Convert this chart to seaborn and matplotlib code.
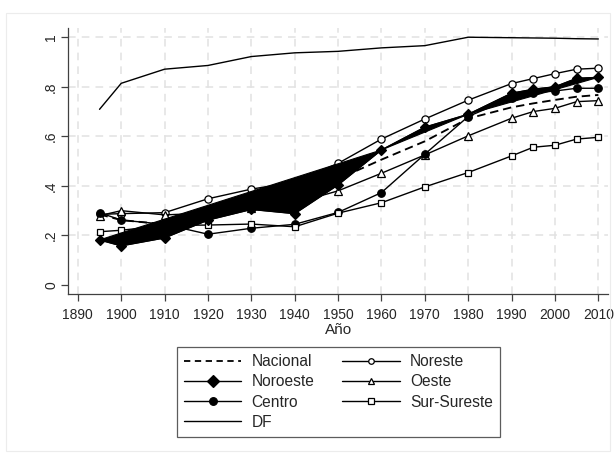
import matplotlib
matplotlib.use("Agg")
import matplotlib.pyplot as plt
from matplotlib.lines import Line2D
from matplotlib.patches import Rectangle
import seaborn as sns
import pandas as pd

years = [1895, 1900, 1910, 1920, 1930, 1940, 1950, 1960, 1970, 1980, 1990, 1995, 2000, 2005, 2010]

nacional = [0.285, 0.262, 0.245, 0.28, 0.31, 0.345, 0.428, 0.506, 0.58, 0.672, 0.717, 0.733, 0.747, 0.76, 0.767]
noreste = [0.285, 0.288, 0.292, 0.348, 0.387, 0.415, 0.491, 0.589, 0.670, 0.746, 0.813, 0.833, 0.853, 0.871, 0.875]
noroeste = [0.182, 0.158, 0.19, 0.262, 0.305, 0.288, 0.404, 0.545, 0.637, 0.689, 0.774, 0.79, 0.80, 0.834, 0.838]
oeste = [0.28, 0.30, 0.283, 0.29, 0.31, 0.33, 0.38, 0.451, 0.525, 0.602, 0.673, 0.70, 0.713, 0.74, 0.744]
centro = [0.292, 0.262, 0.245, 0.205, 0.229, 0.245, 0.293, 0.373, 0.528, 0.68, 0.755, 0.775, 0.783, 0.794, 0.794]
sur_sureste = [0.215, 0.221, 0.24, 0.242, 0.246, 0.235, 0.29, 0.332, 0.396, 0.454, 0.521, 0.556, 0.564, 0.589, 0.596]
df_series = [0.709, 0.814, 0.871, 0.886, 0.922, 0.937, 0.943, 0.957, 0.966, 1.0, 0.998, 0.997, 0.996, 0.994, 0.993]

series_names = ["Nacional", "Noreste", "Noroeste", "Oeste", "Centro", "Sur-Sureste", "DF"]
series_values = [nacional, noreste, noroeste, oeste, centro, sur_sureste, df_series]

x_ticks = [1890, 1900, 1910, 1920, 1930, 1940, 1950, 1960, 1970, 1980, 1990, 2000, 2010]
y_ticks = [0, 0.2, 0.4, 0.6, 0.8, 1.0]
y_tick_labels = ["0", ".2", ".4", ".6", ".8", "1"]
x_title = "Año"

# segments of the Noroeste polyline that appear filled in the original rendering
noroeste_fill_breaks = [1895, 1960, 1980, 2010]

data = pd.DataFrame({
    "Año": years * len(series_names),
    "valor": [v for vals in series_values for v in vals],
    "serie": [n for n in series_names for _ in years],
})

sns.set_style("white")
plt.rcParams["font.family"] = ["Liberation Sans", "DejaVu Sans"]

fig = plt.figure(figsize=(6.16, 4.55), dpi=100)
fig.patches.append(Rectangle((6 / 616, 4 / 455), 604 / 616, 438 / 455, transform=fig.transFigure,
                             fill=False, edgecolor="#ececec", linewidth=0.8, zorder=0))
ax = fig.add_axes([68.3 / 616, 1 - 294.3 / 455, 540 / 616, 266 / 455])

styles = {
    "Nacional": dict(marker=None, linestyle=(0, (4.5, 2.6)), linewidth=1.35),
    "Noreste": dict(marker="o", markersize=5.2, markerfacecolor="white", markeredgewidth=0.9),
    "Noroeste": dict(marker="D", markersize=5.2, markerfacecolor="black", markeredgewidth=0.9),
    "Oeste": dict(marker="^", markersize=5.6, markerfacecolor="white", markeredgewidth=0.9),
    "Centro": dict(marker="o", markersize=5.4, markerfacecolor="black", markeredgewidth=0.9),
    "Sur-Sureste": dict(marker="s", markersize=5.0, markerfacecolor="white", markeredgewidth=0.9),
    "DF": dict(marker=None),
}

for name in series_names:
    sub = data[data["serie"] == name]
    kw = dict(linewidth=1.0)
    kw.update(styles[name])
    z = 4 if name == "Noroeste" else 2
    sns.lineplot(data=sub, x="Año", y="valor", ax=ax, color="black", markeredgecolor="black",
                 legend=False, errorbar=None, zorder=z, **kw)

nor = data[data["serie"] == "Noroeste"]
for a, b in zip(noroeste_fill_breaks[:-1], noroeste_fill_breaks[1:]):
    seg = nor[(nor["Año"] >= a) & (nor["Año"] <= b)]
    ax.fill(seg["Año"], seg["valor"], color="black", linewidth=0.8, zorder=3.5)

ax.set_xlim(1887.8, 2012.3)
ax.set_ylim(-0.0375, 1.036)
ax.set_xticks(x_ticks)
ax.set_xticklabels([str(t) for t in x_ticks])
ax.set_yticks(y_ticks)
ax.set_yticklabels(y_tick_labels, rotation=90, va="center")
ax.set_xlabel(x_title, fontsize=11, labelpad=0.5)
ax.set_ylabel("")

ax.tick_params(axis="both", which="major", direction="out", length=5.3, width=0.9, color="#404040",
               labelsize=10, left=True, bottom=True)
ax.tick_params(axis="x", pad=4.5)
ax.tick_params(axis="y", pad=2)
ax.grid(True, color="#e2e2e2", linestyle=(0, (5, 4)), linewidth=1.1)
ax.yaxis.get_gridlines()[0].set_visible(False)
ax.set_axisbelow(True)
for s in ["top", "right"]:
    ax.spines[s].set_visible(False)
for s in ["left", "bottom"]:
    ax.spines[s].set_color("#404040")
    ax.spines[s].set_linewidth(0.9)

legend_handles = []
legend_labels = []
leg_styles = {
    "Nacional": dict(marker=None, linestyle=(0, (3.5, 2.5)), linewidth=1.3),
    "Noreste": dict(marker="o", markersize=4.0, markerfacecolor="white"),
    "Noroeste": dict(marker="D", markersize=6.0, markerfacecolor="black"),
    "Oeste": dict(marker="^", markersize=4.5, markerfacecolor="white"),
    "Centro": dict(marker="o", markersize=5.5, markerfacecolor="black"),
    "Sur-Sureste": dict(marker="s", markersize=4.0, markerfacecolor="white"),
    "DF": dict(marker=None),
}
order = ["Nacional", "Noroeste", "Centro", "DF", "Noreste", "Oeste", "Sur-Sureste"]
for name in order:
    kw = dict(color="black", linewidth=1.0, markeredgecolor="black", markeredgewidth=0.9)
    kw.update(leg_styles[name])
    legend_handles.append(Line2D([0], [0], **kw))
    legend_labels.append(name)

leg = fig.legend(legend_handles, legend_labels, ncol=2, loc="center",
                 bbox_to_anchor=(338.4 / 616, 1 - 392 / 455), fontsize=11.2,
                 frameon=True, fancybox=False, handlelength=3.7, handletextpad=0.65,
                 columnspacing=1.8, labelspacing=0.34, borderpad=0.45)
leg.get_frame().set_edgecolor("#333333")
leg.get_frame().set_linewidth(0.9)

fig.savefig("out.png", dpi=100, facecolor="white")
